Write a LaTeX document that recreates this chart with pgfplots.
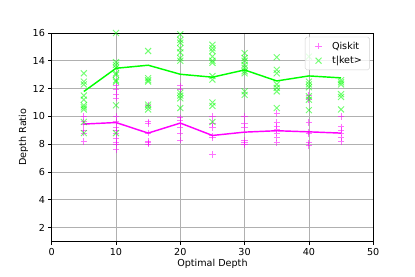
\documentclass[border=0pt]{standalone}
\usepackage{fontspec}
\setmainfont{DejaVu Sans}
\usepackage{pgfplots}
\pgfplotsset{compat=1.18}
\definecolor{mag}{RGB}{255,0,255}
\definecolor{grn}{RGB}{0,255,0}
\definecolor{gridc}{RGB}{176,176,176}
\begin{document}
\begin{tikzpicture}
\path[use as bounding box] (-53.8pt,-36.8pt) rectangle (378.2pt,251.5pt);
\begin{axis}[
  at={(0,0)}, anchor=south west,
  scale only axis, width=334.7pt, height=217.2pt,
  xmin=0, xmax=50, ymin=1, ymax=16,
  xtick={0,10,20,30,40,50}, ytick={2,4,6,8,10,12,14,16},
  grid=major, major grid style={gridc, line width=0.8pt},
  axis line style={black, line width=0.8pt},
  tick align=outside, tick pos=left,
  major tick length=3.5pt, tick style={black, line width=0.8pt},
  every tick label/.style={font=\fontsize{10}{12}\selectfont},
  /pgf/number format/assume math mode=true,
  xlabel={Optimal Depth}, ylabel={Depth Ratio},
  label style={font=\fontsize{10}{12}\selectfont},
  xlabel style={yshift=3pt},
  ylabel style={yshift=-2pt},
  legend style={at={(1,1)}, anchor=north east, xshift=-3.5pt, yshift=-4pt,
    draw=gray!35, rounded corners=2pt, fill=white, fill opacity=0.8, text opacity=1,
    font=\fontsize{10}{12}\selectfont, row sep=2pt, inner xsep=4pt, inner ysep=3pt,
    nodes={inner xsep=4pt}},
  legend cell align=left,
  legend image code/.code={\path[draw=none,fill=none] (0pt,-3pt) rectangle (20pt,3pt);\draw plot coordinates {(10pt,0pt)};},
]
\addplot[only marks, mark=+, mark size=3.3pt, mag, opacity=0.55, mark options={line width=1pt}] coordinates {
(5,10.0) (5,9.6) (5,9.45) (5,9.0) (5,8.8) (5,8.2)
(10,12.2) (10,11.9) (10,11.6) (10,11.3) (10,10.0) (10,9.6) (10,9.2) (10,9.0) (10,8.8) (10,8.4) (10,8.1) (10,8.0) (10,7.6)
(15,10.8) (15,9.6) (15,9.5) (15,8.8) (15,8.2) (15,8.1) (15,8.0)
(20,12.2) (20,11.9) (20,9.9) (20,9.7) (20,9.5) (20,9.2) (20,8.8) (20,8.3)
(25,10.0) (25,9.5) (25,9.2) (25,8.6) (25,8.45) (25,7.25)
(30,10.0) (30,9.5) (30,9.2) (30,8.3) (30,8.1) (30,7.95)
(35,10.2) (35,9.55) (35,9.3) (35,9.05) (35,8.8) (35,8.45) (35,8.1)
(40,11.5) (40,11.2) (40,9.55) (40,8.9) (40,8.75) (40,8.1) (40,7.9)
(45,10.0) (45,9.25) (45,9.0) (45,8.8) (45,8.45) (45,8.2)
};
\addlegendentry{Qiskit}
\addplot[only marks, mark=x, mark size=4.4pt, grn, opacity=0.55, mark options={line width=1pt}] coordinates {
(5,13.1) (5,12.5) (5,12.3) (5,11.5) (5,11.2) (5,10.8) (5,10.65) (5,10.5) (5,9.6) (5,8.8)
(10,16.0) (10,13.9) (10,13.7) (10,13.5) (10,13.1) (10,13.0) (10,12.6) (10,12.5) (10,10.8) (10,8.8)
(15,14.7) (15,12.75) (15,12.6) (15,12.5) (15,10.85) (15,10.7) (15,10.5)
(20,15.9) (20,15.5) (20,15.3) (20,14.9) (20,14.6) (20,14.2) (20,14.0) (20,11.7) (20,11.5) (20,11.3) (20,10.6)
(25,15.15) (25,14.9) (25,14.7) (25,14.3) (25,14.0) (25,13.85) (25,12.9) (25,12.65) (25,11.0) (25,10.75) (25,9.6)
(30,14.55) (30,14.2) (30,14.0) (30,13.7) (30,13.5) (30,13.25) (30,13.1) (30,11.8) (30,11.55)
(35,14.25) (35,13.35) (35,13.1) (35,12.3) (35,12.05) (35,11.8) (35,10.6)
(40,14.3) (40,12.5) (40,12.3) (40,12.1) (40,11.45) (40,11.2) (40,10.45)
(45,12.6) (45,12.45) (45,12.3) (45,11.6) (45,11.4) (45,10.5)
};
\addlegendentry{t|ket>}
\addplot[mag, line width=1.5pt, no marks, forget plot] coordinates {
(5,9.45) (10,9.56) (15,8.80) (20,9.52) (25,8.63) (30,8.87) (35,8.97) (40,8.89) (45,8.80)
};
\addplot[grn, line width=1.5pt, no marks, forget plot] coordinates {
(5,11.79) (10,13.46) (15,13.68) (20,13.03) (25,12.82) (30,13.34) (35,12.55) (40,12.91) (45,12.77)
};
\end{axis}
\end{tikzpicture}
\end{document}
